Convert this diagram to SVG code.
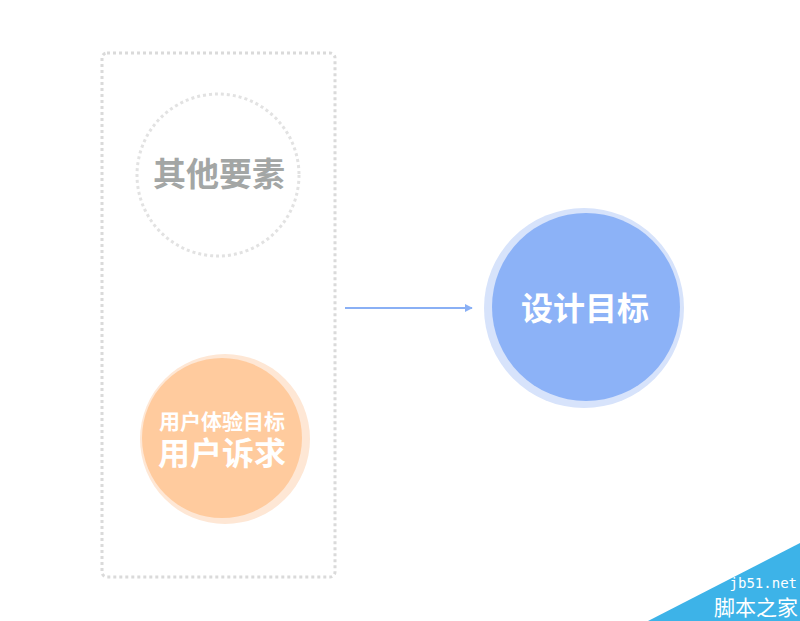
<svg xmlns="http://www.w3.org/2000/svg" width="800" height="621" viewBox="0 0 800 621">
<defs>
<style>
.t{font-family:"Liberation Serif","Noto Sans CJK SC",serif;font-weight:bold;text-anchor:middle}
.dot{fill:none;stroke:#dadada;stroke-width:3;stroke-dasharray:3 3}
</style>
<marker id="ah" viewBox="0 0 10 10" refX="9" refY="5" markerWidth="8" markerHeight="8" markerUnits="userSpaceOnUse" orient="auto">
<path d="M0,0 L10,5 L0,10 Z" fill="#8ab0f5"/>
</marker>
</defs>
<rect width="800" height="621" fill="#ffffff"/>
<g id="container">
<rect class="dot" x="102" y="53" width="233" height="524" rx="5"/>
</g>
<g id="other">
<circle cx="218" cy="175" r="81" fill="none" stroke="#e2e2e2" stroke-width="3" stroke-dasharray="3 3"/>
<text class="t" x="219" y="186" font-size="33" fill="#a3a6a5">其他要素</text>
</g>
<g id="user">
<circle cx="225" cy="439" r="85" fill="#fee7d5"/>
<circle cx="222" cy="438" r="80" fill="#ffcb9e"/>
<text class="t" x="222" y="429" font-size="21" fill="#ffffff">用户体验目标</text>
<text class="t" x="222" y="465" font-size="32" fill="#ffffff">用户诉求</text>
</g>
<g id="connectors">
<line x1="345" y1="308" x2="472" y2="308" stroke="#8ab0f5" stroke-width="2" marker-end="url(#ah)"/>
</g>
<g id="goal">
<circle cx="584" cy="308" r="100" fill="#d7e3fb"/>
<circle cx="586" cy="307" r="94" fill="#8cb2f7"/>
<text class="t" x="585" y="320" font-size="32" fill="#ffffff">设计目标</text>
</g>
<g id="watermark">
<polygon points="648,621 800,543 800,621" fill="#3db3e8"/>
<text x="797" y="588" font-family="DejaVu Sans Mono,monospace" font-size="14" fill="#ffffff" text-anchor="end">jb51.net</text>
<text x="798" y="615" font-family="Noto Sans CJK SC,sans-serif" font-size="21" fill="#ffffff" text-anchor="end">脚本之家</text>
</g>
</svg>
